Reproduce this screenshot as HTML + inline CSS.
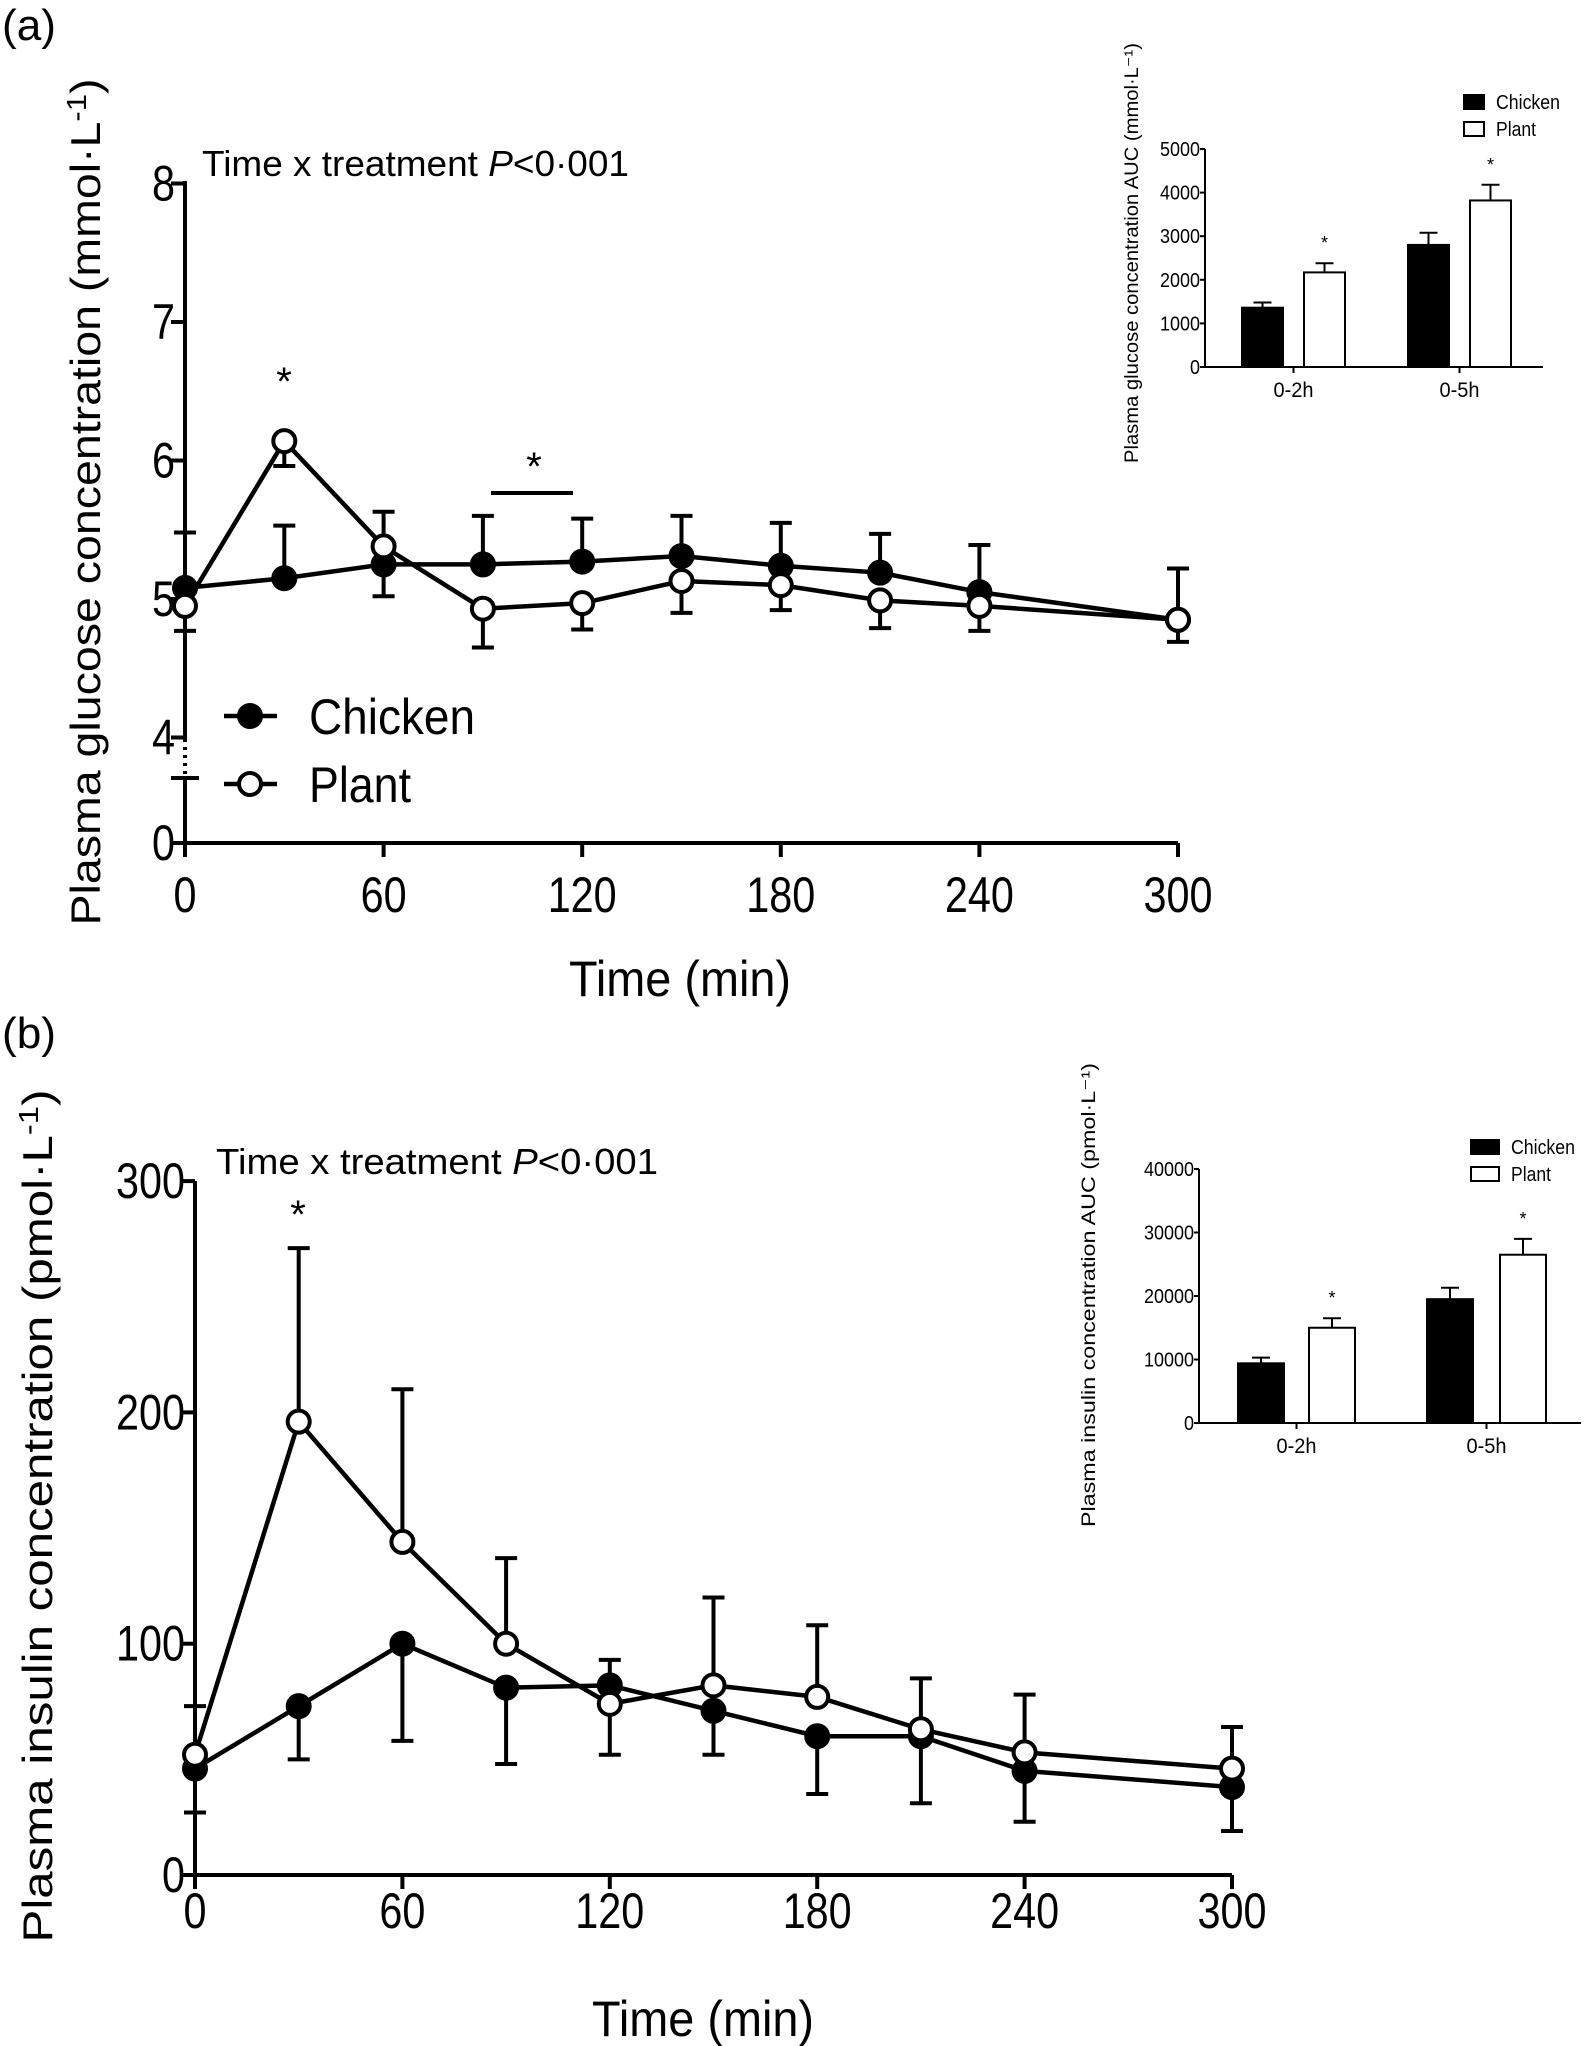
<!DOCTYPE html>
<html><head><meta charset="utf-8"><style>
html,body{margin:0;padding:0;background:#fff}
svg{display:block}
text{font-family:"Liberation Sans Narrow","Liberation Sans",sans-serif;fill:#000}
.h{font-family:"Liberation Sans",sans-serif}
</style></head><body>
<svg id="fig" width="1589" height="2046" viewBox="0 0 1589 2046" xmlns="http://www.w3.org/2000/svg">
<text x="2" y="40" font-size="44" textLength="54" lengthAdjust="spacingAndGlyphs">(a)</text>
<text x="2" y="1048" font-size="44" textLength="54" lengthAdjust="spacingAndGlyphs">(b)</text>
<text x="202" y="176" font-size="36" textLength="427" lengthAdjust="spacingAndGlyphs">Time x treatment <tspan font-style="italic">P</tspan>&lt;0·001</text>
<text x="216" y="1174" font-size="36" textLength="442" lengthAdjust="spacingAndGlyphs">Time x treatment <tspan font-style="italic">P</tspan>&lt;0·001</text>
<text class="h" transform="translate(100,502) rotate(-90)" text-anchor="middle" font-size="42" textLength="847" lengthAdjust="spacingAndGlyphs">Plasma glucose concentration (mmol·L<tspan dy="-14" font-size="28">-1</tspan><tspan dy="14">)</tspan></text>
<text class="h" transform="translate(52,1516) rotate(-90)" text-anchor="middle" font-size="42" textLength="853" lengthAdjust="spacingAndGlyphs">Plasma insulin concentration (pmol·L<tspan dy="-14" font-size="28">-1</tspan><tspan dy="14">)</tspan></text>
<text x="680" y="996" text-anchor="middle" font-size="50" textLength="222" lengthAdjust="spacingAndGlyphs">Time (min)</text>
<text x="703" y="2036" text-anchor="middle" font-size="50" textLength="222" lengthAdjust="spacingAndGlyphs">Time (min)</text>
<g id="ga"></g><g id="gb"></g><g id="ia"></g><g id="ib"></g>
</svg>
<script>
const times = [0,30,60,90,120,150,180,210,240,300];
const xTicks = [0,60,120,180,240,300];
// panel a glucose
const gluChicken = [5.08,5.15,5.25,5.25,5.27,5.31,5.24,5.19,5.05,4.85];
const gluChickenErr = [0.40,0.38,0.38,0.35,0.31,0.29,0.31,0.28,0.34,0.37];
const gluPlant = [4.95,6.14,5.38,4.93,4.97,5.13,5.10,4.99,4.95,4.85];
const gluPlantErr = [0.18,0.18,0.36,0.28,0.19,0.23,0.18,0.20,0.18,0.16];
const gluYTicks = [4,5,6,7,8];
// panel b insulin
const insChicken = [46,73,100,81,82,71,60,60,45,38];
const insChickenErr = [19,23,42,33,30,19,25,29,22,19];
const insPlant = [52,196,144,100,74,82,77,63,53,46];
const insPlantErr = [21,75,66,37,19,38,31,22,25,18];
const insYTicks = [0,100,200,300];
// insets
const aucGroups = ['0-2h','0-5h'];
const gluAucChicken = [1360,2800];
const gluAucChickenErr = [120,280];
const gluAucPlant = [2170,3820];
const gluAucPlantErr = [210,360];
const gluAucTicks = [0,1000,2000,3000,4000,5000];
const insAucChicken = [9400,19500];
const insAucChickenErr = [900,1800];
const insAucPlant = [15000,26500];
const insAucPlantErr = [1500,2500];
const insAucTicks = [0,10000,20000,30000,40000];

const NS='http://www.w3.org/2000/svg';
function mk(parent,tag,attrs,txt){const e=document.createElementNS(NS,tag);for(const k in attrs)e.setAttribute(k,attrs[k]);if(txt!==undefined)e.textContent=txt;parent.appendChild(e);return e;}

function linePanel(g,cfg){
  const xs=t=>cfg.x0+(t/300)*(cfg.x1-cfg.x0);
  const ys=cfg.ys;
  let a;
  a=mk(g,'line',{x1:cfg.x0,y1:cfg.yBase,x2:cfg.x1,y2:cfg.yBase,stroke:'#000','stroke-width':4});
  
  
  cfg.yAxisSegs.forEach(s=>{const l=mk(g,'line',{x1:cfg.x0,y1:s[0],x2:cfg.x0,y2:s[1],stroke:'#000','stroke-width':4,'stroke-dasharray':s[2]||''});
    
    });
  xTicks.forEach(t=>{mk(g,'line',{x1:xs(t),y1:cfg.yBase,x2:xs(t),y2:cfg.yBase+14,stroke:'#000','stroke-width':4});
    const s=String(t);
    const tx=mk(g,'text',{x:xs(t),y:cfg.xLabY,'text-anchor':'middle','font-size':50,textLength:s.length*23,lengthAdjust:'spacingAndGlyphs'},s);
    
    });
  cfg.yTicks.forEach(v=>{mk(g,'line',{x1:cfg.x0-14,y1:ys(v),x2:cfg.x0,y2:ys(v),stroke:'#000','stroke-width':4});
    const s=String(v);
    const tx=mk(g,'text',{x:cfg.x0-10,y:ys(v)+17,'text-anchor':'end','font-size':50,textLength:s.length*23,lengthAdjust:'spacingAndGlyphs'},s);
    
    });
  (cfg.extraTicks||[]).forEach(e=>{mk(g,'line',{x1:cfg.x0-14,y1:e.y,x2:cfg.x0+14*(e.both?1:0),y2:e.y,stroke:'#000','stroke-width':4});
    if(e.label!==undefined){const tx=mk(g,'text',{x:cfg.x0-10,y:e.y+17,'text-anchor':'end','font-size':50,textLength:23,lengthAdjust:'spacingAndGlyphs'},e.label);
    
    }});
  function err(vals,errs,dir,name){vals.forEach((v,i)=>{const x=xs(times[i]),y=ys(v),ye=ys(v+dir*errs[i]);
    const e=mk(g,'path',{d:`M${x},${y}L${x},${ye}M${x-11},${ye}L${x+11},${ye}`,stroke:'#000','stroke-width':4,fill:'none'});
    
    });}
  err(cfg.chicken,cfg.chickenErr,cfg.chickenDir,'chicken-error-bar');
  err(cfg.plant,cfg.plantErr,cfg.plantDir,'plant-error-bar');
  function series(vals,fill,name){
    const p=mk(g,'polyline',{points:vals.map((v,i)=>xs(times[i])+','+ys(v)).join(' '),fill:'none',stroke:'#000','stroke-width':4.5});
    
    
    vals.forEach((v,i)=>{const c=mk(g,'circle',{cx:xs(times[i]),cy:ys(v),r:11,fill:fill,stroke:'#000','stroke-width':4});
      
      });
  }
  series(cfg.chicken,'#000','chicken');
  series(cfg.plant,'#fff','plant');
}

const gA=document.getElementById('ga');
const ysA=v=> v>=4 ? 599-(v-5)*138.5 : 843-(v/4)*65;
linePanel(gA,{x0:185,x1:1178,yBase:843,xLabY:912,ys:ysA,yTicks:gluYTicks,
  yAxisSegs:[[181,739],[739,778,'3,5'],[778,843]],
  extraTicks:[{y:778,both:true},{y:843,label:'0'}],
  chicken:gluChicken,chickenErr:gluChickenErr,chickenDir:1,plant:gluPlant,plantErr:gluPlantErr,plantDir:-1});
const gB=document.getElementById('gb');
const ysB=v=>1875-v*2.313;
linePanel(gB,{x0:195,x1:1232,yBase:1875,xLabY:1928,ys:ysB,yTicks:insYTicks,
  yAxisSegs:[[1181,1875]],
  chicken:insChicken,chickenErr:insChickenErr,chickenDir:-1,plant:insPlant,plantErr:insPlantErr,plantDir:1});

function star(g,x,y,s){const t=mk(g,'text',{x:x,y:y,'text-anchor':'middle','font-size':s,class:'h'},'*');
  
  }
star(gA,284,395,40); star(gA,534,480,40);
let sb=mk(gA,'line',{x1:491,y1:493,x2:573,y2:493,stroke:'#000','stroke-width':4});


star(gB,298,1228,40);

[['Chicken','#000',716,166],['Plant','#fff',784,102]].forEach(l=>{
  const lg=mk(gA,'g',{});
  
  
  mk(lg,'line',{x1:224,y1:l[2],x2:277,y2:l[2],stroke:'#000','stroke-width':4.5});
  mk(lg,'circle',{cx:250,cy:l[2],r:11,fill:l[1],stroke:'#000','stroke-width':4});
  mk(lg,'text',{x:309,y:l[2]+18,'font-size':50,textLength:l[3],lengthAdjust:'spacingAndGlyphs'},l[0]);
});

function inset(g,c){
  const ys=v=>c.y0-(v/c.max)*(c.y0-c.yTop);
  let a=mk(g,'line',{x1:c.ax,y1:c.yTop,x2:c.ax,y2:c.y0,stroke:'#000','stroke-width':2});
  
  
  a=mk(g,'line',{x1:c.ax,y1:c.y0,x2:c.xEnd,y2:c.y0,stroke:'#000','stroke-width':2});
  
  
  c.ticks.forEach(v=>{mk(g,'line',{x1:c.ax-5,y1:ys(v),x2:c.ax,y2:ys(v),stroke:'#000','stroke-width':2});
    const s=String(v);
    const t=mk(g,'text',{x:c.ax-5,y:ys(v)+7,'text-anchor':'end','font-size':20,textLength:s.length*10,lengthAdjust:'spacingAndGlyphs'},s);
    
    });
  aucGroups.forEach((grp,i)=>{
    const bars=[[c.chicken[i],c.chickenErr[i],'#000',c.cx[i],'chicken'],[c.plant[i],c.plantErr[i],'#fff',c.px[i],'plant']];
    bars.forEach(b=>{
      const r=mk(g,'rect',{x:b[3],y:ys(b[0]),width:c.bw,height:c.y0-ys(b[0]),fill:b[2],stroke:'#000','stroke-width':2});
      
      
      const m=b[3]+c.bw/2,ye=ys(b[0]+b[1]);
      mk(g,'path',{d:`M${m},${ys(b[0])}L${m},${ye}M${m-9},${ye}L${m+9},${ye}`,stroke:'#000','stroke-width':2,fill:'none'});
    });
    const mid=(c.cx[i]+c.px[i]+c.bw)/2;
    mk(g,'line',{x1:mid,y1:c.y0,x2:mid,y2:c.y0+6,stroke:'#000','stroke-width':2});
    const t=mk(g,'text',{x:mid,y:c.y0+30,'text-anchor':'middle','font-size':21,textLength:40,lengthAdjust:'spacingAndGlyphs'},grp);
    
    
    const s=mk(g,'text',{x:c.px[i]+c.bw/2,y:ys(c.plant[i]+c.plantErr[i])-14,'text-anchor':'middle','font-size':18,class:'h'},'*');
    
    
  });
  [['Chicken','#000',c.legY,64],['Plant','#fff',c.legY+27,40]].forEach(l=>{
    const lg=mk(g,'g',{});
    
    
    mk(lg,'rect',{x:c.legX,y:l[2],width:c.legW,height:14,fill:l[1],stroke:'#000','stroke-width':2});
    mk(lg,'text',{x:c.legX+c.legW+12,y:l[2]+14,'font-size':20,textLength:l[3],lengthAdjust:'spacingAndGlyphs'},l[0]);
  });
  const yl=mk(g,'text',{class:'h',transform:`translate(${c.labX},${c.labY}) rotate(-90)`,'text-anchor':'middle','font-size':19,textLength:c.labLen,lengthAdjust:'spacingAndGlyphs'},c.label);
  
  
}
inset(document.getElementById('ia'),{ax:1205,y0:367,yTop:149,max:5000,xEnd:1543,ticks:gluAucTicks,
  chicken:gluAucChicken,chickenErr:gluAucChickenErr,plant:gluAucPlant,plantErr:gluAucPlantErr,
  cx:[1242,1408],px:[1304,1470],bw:41,legX:1464,legW:20,legY:95,labX:1138,labY:253,labLen:420,
  label:'Plasma glucose concentration AUC (mmol·L⁻¹)'});
inset(document.getElementById('ib'),{ax:1199,y0:1423,yTop:1169,max:40000,xEnd:1581,ticks:insAucTicks,
  chicken:insAucChicken,chickenErr:insAucChickenErr,plant:insAucPlant,plantErr:insAucPlantErr,
  cx:[1238,1427],px:[1309,1500],bw:46,legX:1471,legW:28,legY:1140,labX:1095,labY:1295,labLen:464,
  label:'Plasma insulin concentration AUC (pmol·L⁻¹)'});
</script>
</body></html>
